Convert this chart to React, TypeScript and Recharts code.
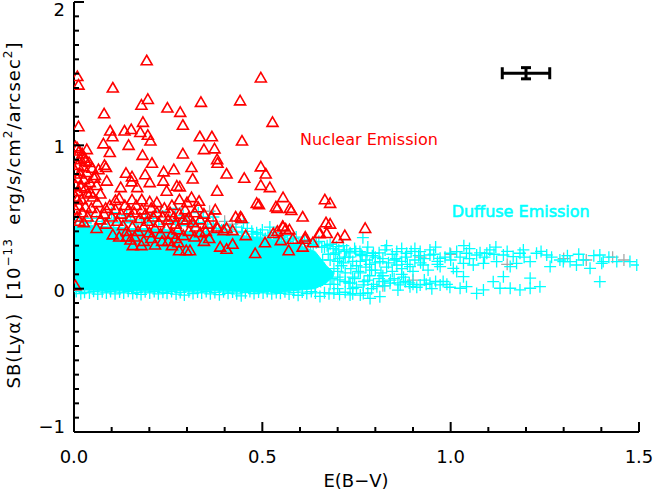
import React from 'react';
import { ComposedChart, XAxis, YAxis, Scatter, Area, ErrorBar, Label } from 'recharts';

const W = 654;
const H = 493;
const FONT = '"DejaVu Sans", sans-serif';

// ---------- axis ticks ----------
const xTicks = [0, 0.1, 0.2, 0.3, 0.4, 0.5, 0.6, 0.7, 0.8, 0.9, 1.0, 1.1, 1.2, 1.3, 1.4, 1.5];
const yTicks = Array.from({ length: 31 }, (_, i) => Math.round((-1 + i * 0.1) * 10) / 10);
const xMajorLabels = ['0.0', '0.5', '1.0', '1.5'];
const yMajorLabels = ['−1', '0', '1', '2'];

// ---------- nuclear emission (red triangles) ----------
const nuclearUpper: [number, number][] = [
  [0.193, 1.59], [0.009, 1.48], [0.012, 1.42], [0.103, 1.40], [0.496, 1.47], [0.196, 1.32], [0.179, 1.28],
  [0.337, 1.30], [0.441, 1.31], [0.248, 1.26], [0.282, 1.23], [0.080, 1.22], [0.012, 1.13], [0.183, 1.16],
  [0.289, 1.14], [0.527, 1.16], [0.096, 1.10], [0.134, 1.10], [0.152, 1.11], [0.176, 1.09], [0.196, 1.07],
  [0.102, 1.06], [0.203, 1.03], [0.145, 1.00], [0.078, 1.01], [0.334, 1.06], [0.366, 1.06], [0.446, 1.03],
  [0.345, 0.97], [0.373, 0.975], [0.289, 0.94], [0.095, 0.95], [0.034, 0.97], [0.009, 0.98], [0.182, 0.93],
  [0.380, 0.90], [0.381, 0.875], [0.207, 0.875], [0.496, 0.85], [0.081, 0.86], [0.085, 0.845], [0.065, 0.83],
  [0.030, 0.89], [0.312, 0.845], [0.265, 0.83], [0.238, 0.815], [0.138, 0.805], [0.189, 0.795], [0.509, 0.80],
  [0.405, 0.80], [0.315, 0.765], [0.452, 0.77], [0.054, 0.77], [0.087, 0.75], [0.154, 0.78], [0.153, 0.745],
  [0.201, 0.74], [0.237, 0.75], [0.273, 0.715], [0.281, 0.71], [0.124, 0.705], [0.168, 0.705], [0.246, 0.68],
  [0.380, 0.68], [0.496, 0.72], [0.520, 0.705], [0.044, 0.67], [0.312, 0.635], [0.332, 0.61], [0.330, 0.565],
  [0.555, 0.635], [0.485, 0.595], [0.536, 0.57], [0.573, 0.56], [0.577, 0.545], [0.607, 0.50], [0.666, 0.62],
  [0.669, 0.46], [0.653, 0.385], [0.671, 0.385], [0.110, 0.615], [0.062, 0.60], [0.084, 0.56], [0.009, 0.62],
  [0.201, 0.605], [0.154, 0.62], [0.680, 0.595], [0.680, 0.45], [0.700, 0.35], [0.719, 0.37], [0.773, 0.42],
  [0.491, 0.585], [0.540, 0.56], [0.445, 0.49],
];

const nuclearLower: [number, number][] = [
  [0.299, 0.48], [0.323, 0.43], [0.379, 0.43], [0.429, 0.50], [0.442, 0.50], [0.405, 0.42], [0.456, 0.37],
  [0.359, 0.35], [0.388, 0.29], [0.405, 0.275], [0.421, 0.31], [0.481, 0.245], [0.507, 0.32], [0.529, 0.385],
  [0.555, 0.43], [0.562, 0.415], [0.581, 0.345], [0.570, 0.265], [0.607, 0.29], [0.613, 0.345], [0.634, 0.32],
  [0.279, 0.265], [0.298, 0.265], [0.308, 0.265], [0.277, 0.32], [0.215, 0.305], [0.234, 0.33], [0.156, 0.30],
  [0.179, 0.30], [0.103, 0.375], [0.140, 0.36], [0.161, 0.36], [0.381, 0.42], [0.397, 0.405], [0.421, 0.405],
  [0.554, 0.435], [0.572, 0.41], [0.540, 0.40], [0.614, 0.36], [0.651, 0.385], [0.549, 0.335], [0.004, 0.02],
];

const nuclearLeftColumn: [number, number][] = [
  [0.004, 0.99], [0.014, 0.96], [0.022, 0.94], [0.006, 0.92], [0.018, 0.90], [0.028, 0.91], [0.040, 0.88],
  [0.010, 0.86], [0.024, 0.85], [0.048, 0.84], [0.004, 0.82], [0.016, 0.80], [0.034, 0.81], [0.056, 0.79],
  [0.008, 0.77], [0.026, 0.76], [0.042, 0.74], [0.004, 0.72], [0.018, 0.71], [0.030, 0.70], [0.060, 0.72],
  [0.010, 0.68], [0.036, 0.66], [0.050, 0.64], [0.004, 0.64], [0.020, 0.62], [0.070, 0.66], [0.012, 0.58],
  [0.030, 0.57], [0.046, 0.56], [0.004, 0.55], [0.022, 0.53], [0.060, 0.53], [0.008, 0.50], [0.036, 0.50],
  [0.014, 0.47], [0.080, 0.52], [0.026, 0.46],
];

const nuclearCluster: [number, number][] = [
  [0.095, 0.58], [0.110, 0.55], [0.125, 0.52], [0.135, 0.58], [0.145, 0.55], [0.150, 0.50], [0.160, 0.53],
  [0.165, 0.58], [0.175, 0.49], [0.180, 0.55], [0.190, 0.52], [0.195, 0.47], [0.205, 0.56], [0.210, 0.50],
  [0.220, 0.53], [0.225, 0.46], [0.235, 0.50], [0.240, 0.56], [0.250, 0.48], [0.255, 0.53], [0.265, 0.50],
  [0.270, 0.45], [0.280, 0.52], [0.290, 0.48], [0.295, 0.55], [0.305, 0.50], [0.315, 0.46], [0.320, 0.53],
  [0.335, 0.48], [0.345, 0.52], [0.355, 0.45], [0.365, 0.50], [0.375, 0.55], [0.115, 0.47], [0.130, 0.44],
  [0.140, 0.40], [0.155, 0.43], [0.170, 0.40], [0.185, 0.43], [0.200, 0.39], [0.215, 0.42], [0.230, 0.38],
  [0.245, 0.42], [0.260, 0.38], [0.275, 0.41], [0.290, 0.37], [0.305, 0.40], [0.320, 0.36], [0.335, 0.39],
  [0.350, 0.40], [0.120, 0.36], [0.150, 0.34], [0.185, 0.33], [0.205, 0.35], [0.250, 0.33], [0.260, 0.30],
  [0.270, 0.35], [0.345, 0.33], [0.100, 0.50], [0.085, 0.45], [0.070, 0.48], [0.060, 0.42], [0.220, 0.60],
  [0.260, 0.58], [0.300, 0.60], [0.280, 0.62], [0.180, 0.62], [0.120, 0.63],
];

// ---------- diffuse emission (cyan crosses) ----------
// dense core of the cloud, read as the [low, high] envelope of the solid cyan band
const coreX = [0, 0.05, 0.1, 0.15, 0.2, 0.25, 0.3, 0.35, 0.4, 0.45, 0.5, 0.55, 0.6, 0.64, 0.67, 0.69];
const coreLow = [-0.01, -0.01, -0.015, -0.015, -0.015, -0.015, -0.015, -0.015, -0.015, -0.02, -0.02, -0.02, -0.01, 0.0, 0.04, 0.09];
const coreHigh = [0.44, 0.44, 0.43, 0.42, 0.42, 0.41, 0.40, 0.39, 0.38, 0.37, 0.35, 0.33, 0.30, 0.26, 0.16, 0.11];

const diffuseTop: [number, number][] = [
  [0.005, 0.47], [0.015, 0.50], [0.030, 0.46], [0.045, 0.49], [0.060, 0.47], [0.075, 0.45], [0.090, 0.48],
  [0.105, 0.46], [0.120, 0.49], [0.135, 0.46], [0.150, 0.48], [0.165, 0.45], [0.180, 0.48], [0.195, 0.46],
  [0.210, 0.49], [0.225, 0.47], [0.240, 0.45], [0.255, 0.48], [0.270, 0.46], [0.285, 0.44], [0.300, 0.47],
  [0.315, 0.44], [0.330, 0.46], [0.343, 0.50], [0.355, 0.43], [0.370, 0.45], [0.385, 0.42], [0.400, 0.44],
  [0.415, 0.41], [0.430, 0.43], [0.445, 0.40], [0.460, 0.42], [0.475, 0.38], [0.485, 0.39], [0.500, 0.41],
  [0.515, 0.37], [0.530, 0.39], [0.545, 0.35], [0.560, 0.37], [0.575, 0.34], [0.590, 0.36], [0.605, 0.32],
  [0.620, 0.34], [0.635, 0.31], [0.650, 0.33], [0.665, 0.29], [0.680, 0.31], [0.10, 0.53], [0.19, 0.52],
  [0.23, 0.54], [0.33, 0.53], [0.37, 0.50], [0.14, 0.51], [0.29, 0.51], [0.45, 0.46], [0.52, 0.43], [0.27, 0.56],
  [0.352, 0.40], [0.365, 0.42], [0.378, 0.39], [0.392, 0.41], [0.405, 0.38], [0.418, 0.40], [0.432, 0.37],
  [0.447, 0.39], [0.458, 0.36], [0.472, 0.40], [0.488, 0.36], [0.495, 0.38], [0.508, 0.35], [0.522, 0.37],
  [0.537, 0.34], [0.551, 0.36], [0.566, 0.33], [0.582, 0.35], [0.597, 0.31], [0.612, 0.33], [0.628, 0.30],
  [0.643, 0.32], [0.658, 0.29], [0.672, 0.30], [0.688, 0.28], [0.703, 0.27], [0.718, 0.26], [0.733, 0.25],
  [0.748, 0.26], [0.762, 0.24], [0.778, 0.25], [0.792, 0.23],
];

const diffuseBottom: [number, number][] = [
  [0.006, -0.02], [0.018, -0.035], [0.028, -0.025], [0.041, -0.03], [0.052, -0.018], [0.063, -0.038],
  [0.075, -0.022], [0.086, -0.03], [0.097, -0.02], [0.109, -0.036], [0.121, -0.024], [0.132, -0.03],
  [0.144, -0.018], [0.156, -0.034], [0.167, -0.026], [0.178, -0.04], [0.189, -0.022], [0.201, -0.03],
  [0.213, -0.02], [0.224, -0.036], [0.236, -0.025], [0.247, -0.032], [0.259, -0.02], [0.271, -0.038],
  [0.282, -0.026], [0.293, -0.045], [0.305, -0.022], [0.316, -0.034], [0.328, -0.024], [0.339, -0.03],
  [0.351, -0.02], [0.362, -0.036], [0.374, -0.026], [0.386, -0.042], [0.397, -0.022], [0.409, -0.032],
  [0.421, -0.024], [0.432, -0.036], [0.444, -0.05], [0.455, -0.028], [0.467, -0.02], [0.478, -0.034],
  [0.490, -0.024], [0.502, -0.03], [0.513, -0.02], [0.525, -0.036], [0.537, -0.026], [0.548, -0.032],
  [0.560, -0.022], [0.571, -0.038], [0.583, -0.026], [0.595, -0.046], [0.606, -0.024], [0.618, -0.034],
  [0.630, -0.02], [0.641, -0.03], [0.653, -0.054], [0.665, -0.028], [0.677, -0.036], [0.690, -0.03],
  [0.705, -0.04], [0.720, -0.025], [0.740, -0.035], [0.760, -0.045], [0.780, -0.03],
];

const diffuseRightEnd: [number, number][] = [
  [0.68, 0.20], [0.69, 0.14], [0.70, 0.08], [0.71, 0.16], [0.72, 0.11], [0.73, 0.04], [0.735, 0.14],
  [0.745, 0.07], [0.755, 0.12], [0.76, 0.19], [0.77, 0.05], [0.775, 0.15], [0.785, 0.09], [0.79, 0.13],
  [0.795, 0.03], [0.80, 0.18], [0.81, 0.07], [0.815, 0.11], [0.825, 0.02], [0.83, 0.15], [0.84, 0.06],
  [0.845, 0.12], [0.85, 0.20], [0.86, 0.04], [0.87, 0.14], [0.875, 0.08], [0.885, 0.17], [0.89, 0.04],
  [0.90, 0.12], [0.91, 0.01], [0.92, 0.18], [0.935, 0.03], [0.94, 0.13], [0.96, 0.05], [0.965, 0.17],
  [0.99, 0.03], [0.69, 0.03], [0.70, 0.19], [0.72, 0.22], [0.74, 0.00], [0.66, 0.20], [0.67, 0.10],
  [0.655, 0.05], [0.675, 0.24], [0.685, 0.07], [0.695, 0.25], [0.665, 0.14],
];

const diffuseTailUpper: [number, number][] = [
  [0.724, 0.270], [0.759, 0.259], [0.795, 0.247], [0.826, 0.270], [0.857, 0.259], [0.883, 0.247], [0.919, 0.259],
  [0.945, 0.270], [0.945, 0.235], [0.972, 0.212], [0.998, 0.247], [1.016, 0.259], [1.042, 0.247], [1.069, 0.235],
  [1.096, 0.247], [1.104, 0.270], [1.140, 0.235], [1.166, 0.224], [1.184, 0.247], [1.193, 0.270], [1.228, 0.247],
  [1.255, 0.235], [1.290, 0.200], [1.317, 0.189], [1.352, 0.200], [1.396, 0.235], [1.405, 0.189], [1.441, 0.189],
  [1.476, 0.189], [1.494, 0.165], [0.812, 0.189], [0.857, 0.165], [0.892, 0.154], [0.927, 0.165], [0.972, 0.154],
  [1.007, 0.142], [1.034, 0.177], [1.060, 0.165], [1.087, 0.177], [1.122, 0.189], [1.158, 0.154], [1.175, 0.177],
  [1.211, 0.189], [1.264, 0.154], [1.299, 0.189], [1.334, 0.165], [1.370, 0.142], [1.401, 0.177],
  [0.690, 0.24], [0.705, 0.21], [0.715, 0.18], [0.730, 0.22], [0.740, 0.19], [0.750, 0.16], [0.765, 0.23],
  [0.775, 0.20], [0.785, 0.17], [0.800, 0.22], [0.810, 0.25], [0.820, 0.21], [0.835, 0.18], [0.845, 0.24],
  [0.855, 0.21], [0.870, 0.19], [0.880, 0.22], [0.895, 0.26], [0.905, 0.20], [0.915, 0.23], [0.930, 0.21],
  [0.955, 0.24], [0.965, 0.19], [0.985, 0.22], [1.000, 0.20], [1.025, 0.22], [1.050, 0.21], [1.078, 0.25],
  [1.090, 0.22], [1.115, 0.24], [1.150, 0.26], [1.195, 0.22], [1.240, 0.26], [1.268, 0.22], [1.310, 0.23],
  [1.340, 0.24], [1.380, 0.23], [1.420, 0.22], [0.767, 0.356], [0.697, 0.293], [0.715, 0.30], [0.745, 0.28],
  [0.780, 0.29], [0.830, 0.30], [0.870, 0.28], [0.905, 0.28], [0.960, 0.29], [1.050, 0.28], [1.120, 0.29], [1.035, 0.30],
];

const diffuseTailLower: [number, number][] = [
  [0.706, 0.061], [0.733, 0.038], [0.768, 0.026], [0.804, 0.014], [0.839, 0.038], [0.866, 0.026], [0.892, 0.014],
  [0.919, 0.026], [0.945, 0.038], [0.972, 0.026], [0.998, 0.010], [1.025, 0.003], [1.042, 0.014], [1.069, -0.033],
  [1.087, -0.009], [1.113, 0.049], [1.131, 0.003], [1.158, 0.003], [1.184, -0.009], [1.211, 0.003], [1.237, 0.014],
  [1.396, 0.049], [1.211, 0.073], [1.140, 0.084], [1.034, 0.084], [1.016, 0.119], [0.768, -0.033], [0.733, -0.044],
  [0.812, -0.056], [0.786, -0.068], [0.62, 0.05], [0.64, 0.02], [0.66, 0.06], [0.68, 0.03], [0.70, 0.00],
  [0.72, 0.05], [0.74, 0.08], [0.75, 0.01], [0.78, 0.06], [0.79, 0.00], [0.82, 0.05], [0.85, 0.07], [0.86, -0.01],
  [0.88, 0.05], [0.90, 0.03], [0.93, 0.06], [0.95, 0.00], [0.98, 0.05], [0.82, 0.09], [0.87, 0.10], [0.76, 0.11],
  [0.70, 0.12], [0.65, 0.13], [0.80, 0.13],
];

// ---------- grey crosses (behind the cyan) ----------
const greyPoints: [number, number][] = [
  [0.36, 0.54], [0.37, 0.52], [0.40, 0.47], [0.42, 0.45], [1.46, 0.20], [1.43, 0.22], [1.36, 0.20],
  [1.30, 0.21], [1.15, 0.17], [1.00, 0.24], [0.92, 0.22], [0.82, 0.02], [0.90, 0.06],
];

// ---------- representative error bar ----------
const errX = [1.2];
const errY = [1.503];
const errHalfX = [0.063];
const errHalfY = [0.039];

// ---------- annotations ----------
const annotationText = ['Nuclear Emission', 'Duffuse Emission'];
const annotationX = [0.6, 1.0026];
const annotationY = [1.003, 0.502];
const annotationColor = ['#ff0000', '#00ffff'];

// ---------- build chart data ----------
const toPts = (arr: [number, number][]) => arr.map(([x, y]) => ({ x, y }));
const coreData = coreX.map((x, i) => ({ x, band: [coreLow[i], coreHigh[i]] }));
const nuclearData = toPts([...nuclearUpper, ...nuclearLower, ...nuclearLeftColumn, ...nuclearCluster]);
const diffuseData = toPts([...diffuseTop, ...diffuseBottom, ...diffuseRightEnd, ...diffuseTailUpper, ...diffuseTailLower]);
const greyData = toPts(greyPoints);
const errData = errX.map((x, i) => ({ x, y: errY[i], ex: errHalfX[i], ey: errHalfY[i] }));
const annData = annotationText.map((t, i) => ({ x: annotationX[i], y: annotationY[i], text: t, color: annotationColor[i] }));

const isMajorX = (v: number) => Math.abs(v * 2 - Math.round(v * 2)) < 1e-6;
const isMajorY = (v: number) => Math.abs(v - Math.round(v)) < 1e-6;

const Triangle = (p: any) => {
  const { cx, cy } = p;
  if (cx == null || cy == null) return <g />;
  return (
    <path
      d={`M${cx},${cy - 5.5}L${cx + 5.5},${cy + 4}L${cx - 5.5},${cy + 4}Z`}
      fill="none"
      stroke="#ff0000"
      strokeWidth={1.6}
    />
  );
};

const makeCross = (color: string) => (p: any) => {
  const { cx, cy } = p;
  if (cx == null || cy == null) return <g />;
  return <path d={`M${cx - 6},${cy}H${cx + 6}M${cx},${cy - 6}V${cy + 6}`} stroke={color} strokeWidth={1.3} fill="none" />;
};
const CyanCross = makeCross('#00ffff');
const GreyCross = makeCross('#a8a8a8');

const AnnotationShape = (p: any) => {
  const { cx, cy, payload } = p;
  const cyan = payload.color === '#00ffff';
  return (
    <text
      x={cx}
      y={cy}
      fill={payload.color}
      stroke={cyan ? payload.color : 'none'}
      strokeWidth={cyan ? 0.6 : 0}
      fontSize={16}
      fontFamily={FONT}
      textAnchor="start"
    >
      {payload.text}
    </text>
  );
};

const BottomTick = (p: any) => {
  const { x, y, payload } = p;
  const v = payload.value;
  const major = isMajorX(v);
  const idx = Math.round(v * 2);
  return (
    <g>
      <line x1={x} y1={y} x2={x} y2={y - (major ? 10 : 5)} stroke="#000" strokeWidth={2} />
      {major && (
        <text x={x} y={y + 31} textAnchor="middle" fontSize={18} fontFamily={FONT} fill="#000">
          {xMajorLabels[idx]}
        </text>
      )}
    </g>
  );
};

const TopTick = (p: any) => {
  const { x, y, payload } = p;
  const major = isMajorX(payload.value);
  return <line x1={x} y1={y} x2={x} y2={y + (major ? 10 : 5)} stroke="#000" strokeWidth={2} />;
};

const LeftTick = (p: any) => {
  const { x, y, payload } = p;
  const v = payload.value;
  const major = isMajorY(v);
  const idx = Math.round(v) + 1;
  const shift = v > 1.5 ? 14 : v < -0.5 ? 1 : 8;
  return (
    <g>
      <line x1={x} y1={y} x2={x + (major ? 10 : 5)} y2={y} stroke="#000" strokeWidth={2} />
      {major && (
        <text x={x - 9} y={y + shift} textAnchor="end" fontSize={18} fontFamily={FONT} fill="#000">
          {yMajorLabels[idx]}
        </text>
      )}
    </g>
  );
};

const RightTick = (p: any) => {
  const { x, y, payload } = p;
  const major = isMajorY(payload.value);
  return <line x1={x} y1={y} x2={x - (major ? 10 : 5)} y2={y} stroke="#000" strokeWidth={2} />;
};

const YTitle = () => (
  <text
    transform="translate(20, 215) rotate(-90)"
    textAnchor="middle"
    fontSize={18}
    fontFamily={FONT}
    fill="#000"
    letterSpacing={1.0}
    style={{ whiteSpace: 'pre' }}
  >
    <tspan>{'SB(Lyα)  [10'}</tspan>
    <tspan dy={-8} fontSize={12}>{'−13'}</tspan>
    <tspan dy={8}>{'  erg/s/cm'}</tspan>
    <tspan dy={-8} fontSize={12}>{'2'}</tspan>
    <tspan dy={8}>{'/arcsec'}</tspan>
    <tspan dy={-8} fontSize={12}>{'2'}</tspan>
    <tspan dy={8}>{']'}</tspan>
  </text>
);

const XTitle = () => (
  <text x={356} y={487} textAnchor="middle" fontSize={18} fontFamily={FONT} fill="#000">
    E(B−V)
  </text>
);

const axisLine = { stroke: '#000', strokeWidth: 2 };

export default function App() {
  return (
    <div style={{ position: 'absolute', left: 0, top: 0, width: W, height: H, background: '#fff' }}>
      <ComposedChart width={W} height={H} data={coreData} margin={{ top: 2, right: 15, bottom: 0, left: 0 }}>
        <XAxis
          xAxisId={0}
          dataKey="x"
          type="number"
          domain={[0, 1.5]}
          ticks={xTicks}
          interval={0}
          allowDataOverflow
          height={61}
          tickSize={0}
          tickMargin={0}
          tickLine={false}
          axisLine={axisLine}
          tick={BottomTick}
        >
          <Label content={() => <XTitle />} />
        </XAxis>
        <XAxis
          xAxisId="top"
          orientation="top"
          type="number"
          domain={[0, 1.5]}
          ticks={xTicks}
          interval={0}
          allowDataOverflow
          height={0}
          tickSize={0}
          tickMargin={0}
          tickLine={false}
          axisLine={axisLine}
          tick={TopTick}
        />
        <YAxis
          yAxisId={0}
          dataKey="y"
          type="number"
          domain={[-1, 2]}
          ticks={yTicks}
          interval={0}
          allowDataOverflow
          width={74}
          tickSize={0}
          tickMargin={0}
          tickLine={false}
          axisLine={axisLine}
          tick={LeftTick}
        >
          <Label content={() => <YTitle />} />
        </YAxis>
        <YAxis
          yAxisId="right"
          orientation="right"
          type="number"
          domain={[-1, 2]}
          ticks={yTicks}
          interval={0}
          allowDataOverflow
          width={0}
          tickSize={0}
          tickMargin={0}
          tickLine={false}
          axisLine={axisLine}
          tick={RightTick}
        />
        <Scatter data={greyData} shape={GreyCross} isAnimationActive={false} />
        <Area
          type="linear"
          dataKey="band"
          fill="#00ffff"
          fillOpacity={1}
          stroke="#00ffff"
          strokeWidth={1}
          dot={false}
          activeDot={false}
          isAnimationActive={false}
        />
        <Scatter data={diffuseData} shape={CyanCross} isAnimationActive={false} />
        <Scatter data={nuclearData} shape={Triangle} isAnimationActive={false} />
        <Scatter data={annData} shape={AnnotationShape} isAnimationActive={false} />
        <Scatter data={errData} shape={() => <g />} isAnimationActive={false}>
          <ErrorBar dataKey="ex" direction="x" width={6} stroke="#000" strokeWidth={3} />
          <ErrorBar dataKey="ey" direction="y" width={5} stroke="#000" strokeWidth={3} />
        </Scatter>
      </ComposedChart>
    </div>
  );
}
